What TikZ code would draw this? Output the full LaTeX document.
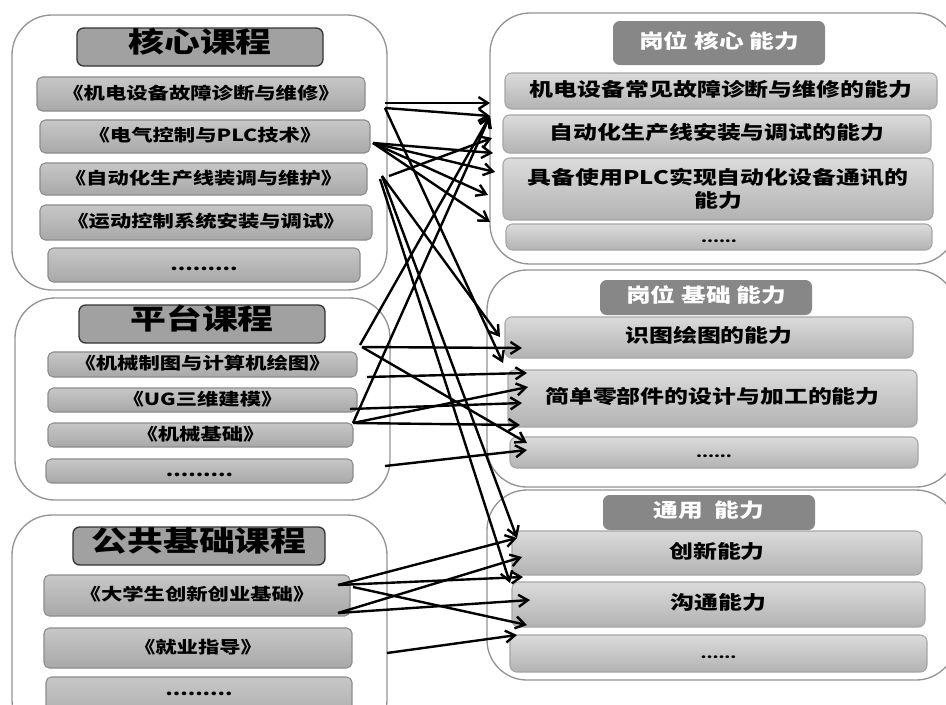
\documentclass[tikz,border=0pt]{standalone}
\usepackage{fontspec}
\newfontfamily\cjk[FakeStretch=1.28]{Noto Sans CJK SC}
\usetikzlibrary{arrows.meta}
\tikzset{
  grp/.style={draw=black!42, line width=1pt, fill=white, rounded corners=30pt, inner sep=0pt},
  tx/.style={text height=0.82em, text depth=0.06em},
  ltitle/.style={tx, draw=black!80, line width=1pt, fill=black!37, rounded corners=5pt, inner sep=0pt,
    font=\cjk\bfseries\fontsize{21}{24}\selectfont},
  litem/.style={tx, draw=black!45, line width=0.8pt, top color=black!22, bottom color=black!34,
    rounded corners=4pt, inner sep=0pt, font=\cjk\bfseries\fontsize{12.5}{14}\selectfont},
  rtitle/.style={tx, fill=black!47, rounded corners=5pt, inner sep=0pt, text=white,
    font=\cjk\bfseries\fontsize{14.5}{16}\selectfont},
  ritem/.style={tx, draw=black!35, line width=0.8pt, top color=black!14, bottom color=black!30,
    rounded corners=5pt, inner sep=0pt, align=center,
    font=\cjk\bfseries\fontsize{14}{17}\selectfont},
  ritembox/.style={draw=black!35, line width=0.8pt, top color=black!14, bottom color=black!30,
    rounded corners=5pt, inner sep=0pt},
  rtext/.style={align=center, inner sep=0pt, font=\cjk\bfseries\fontsize{14}{17}\selectfont},
  arr/.style={-{Straight Barb[length=7pt,width=9pt]}, line width=1.8pt, black},
}
% style, name, x1, y1, x2, y2, text
\newcommand\bnode[7]{\node[#1, minimum width={(#5-#3)*0.75pt}, minimum height={(#6-#4)*0.75pt}]
  (#2) at ({(#3+#5)/2},{(#4+#6)/2}) {#7};}
\begin{document}
\begin{tikzpicture}[x=0.75pt,y=-0.75pt]
\useasboundingbox (0,0) rectangle (946,704);
\clip (0,0) rectangle (946,704);
\fill[white] (0,0) rectangle (946,704);
% group frames
\bnode{grp}{gk}{12}{15}{387}{290}{}
\bnode{grp}{gp}{15}{298}{390}{500}{}
\bnode{grp}{gg}{12}{515}{387}{740}{}
\bnode{grp}{ga}{490}{13}{956}{264}{}
\bnode{grp}{gb}{487}{270}{956}{487}{}
\bnode{grp}{gc}{487}{490}{956}{680}{}
% left: core courses
\bnode{ltitle}{tk}{77}{28}{323}{66}{核心课程}
\bnode{litem}{k1}{37}{77}{365}{111}{《机电设备故障诊断与维修》}
\bnode{litem}{k2}{40}{120}{370}{153}{《电气控制与PLC技术》}
\bnode{litem}{k3}{40}{163}{367}{195}{《自动化生产线装调与维护》}
\bnode{litem}{k4}{40}{205}{372}{240}{《运动控制系统安装与调试》}
\bnode{litem}{k5}{48}{248}{360}{282}{.........}
% left: platform courses
\bnode{ltitle}{tp}{79}{305}{325}{343}{平台课程}
\bnode{litem}{p1}{48}{352}{357}{377}{《机械制图与计算机绘图》}
\bnode{litem}{p2}{48}{388}{357}{412}{《UG三维建模》}
\bnode{litem}{p3}{48}{423}{353}{447}{《机械基础》}
\bnode{litem}{p4}{46}{459}{353}{483}{.........}
% left: public courses
\bnode{ltitle}{tg}{73}{527}{325}{565}{公共基础课程}
\bnode{litem}{g1}{44}{575}{350}{616}{《大学生创新创业基础》}
\bnode{litem}{g2}{44}{628}{352}{668}{《就业指导》}
\bnode{litem}{g3}{46}{677}{352}{725}{}
\node[tx, font=\cjk\bfseries\fontsize{12.5}{14}\selectfont, inner sep=0pt] (g3d) at (199,690) {.........};
% right: core abilities
\bnode{rtitle}{ta}{613}{21}{825}{65}{岗位 核心 能力}
\bnode{ritem}{a1}{505}{73}{937}{109}{机电设备常见故障诊断与维修的能力}
\bnode{ritem}{a2}{503}{115}{931}{153}{自动化生产线安装与调试的能力}
\bnode{ritembox}{a3}{503}{158}{933}{220}{}
\node[rtext] (a3t) at (718,189) {具备使用PLC实现自动化设备通讯的\\[0pt]能力};
\bnode{ritem}{a4}{506}{224}{932}{250}{\fontsize{10}{12}\selectfont ......}
% right: basic abilities
\bnode{rtitle}{tb}{600}{280}{812}{315}{岗位 基础 能力}
\bnode{ritem}{b1}{505}{317}{913}{358}{识图绘图的能力}
\bnode{ritem}{b2}{508}{370}{917}{427}{简单零部件的设计与加工的能力}
\bnode{ritem}{b3}{510}{437}{918}{468}{\fontsize{10}{12}\selectfont ......}
% right: general abilities
\bnode{rtitle}{tc}{603}{495}{815}{530}{通用\ \ 能力}
\bnode{ritem}{c1}{512}{531}{922}{575}{创新能力}
\bnode{ritem}{c2}{512}{582}{925}{627}{沟通能力}
\bnode{ritem}{c3}{510}{635}{927}{672}{\fontsize{10}{12}\selectfont ......}
% connector ends
\coordinate (k1a) at (385,103); \coordinate (k1b) at (385,108);
\coordinate (k2a) at (373,143); \coordinate (k3a) at (389,176);
\coordinate (k3b) at (382,176); \coordinate (k3c) at (380,179);
\coordinate (p1a) at (360,345); \coordinate (p1b) at (362,347);
\coordinate (p2a) at (367,377); \coordinate (p2b) at (350,409);
\coordinate (p3a) at (353,423); \coordinate (p4a) at (385,466);
\coordinate (g1a) at (338,585); \coordinate (g1b) at (353,587);
\coordinate (g1c) at (338,613); \coordinate (g2a) at (387,653);
\coordinate (ea1) at (490,103); \coordinate (ea2) at (490,116);
\coordinate (ea3) at (492,138); \coordinate (ea4) at (493,153);
\coordinate (ea5) at (495,172); \coordinate (ea6) at (488,195);
\coordinate (ea7) at (490,222);
\coordinate (eb1) at (500,337); \coordinate (eb2) at (503,363);
\coordinate (eb3) at (522,348); \coordinate (eb4) at (527,373);
\coordinate (eb5) at (528,387); \coordinate (eb6) at (522,403);
\coordinate (eb7) at (520,425); \coordinate (eb8) at (527,443);
\coordinate (eb9) at (527,450);
\coordinate (ec1) at (517,538); \coordinate (ec2) at (510,583);
\coordinate (ec3) at (523,577); \coordinate (ec4) at (522,557);
\coordinate (ec5) at (530,600); \coordinate (ec6) at (527,625);
\coordinate (ec7) at (517,635);
% connectors
\draw[arr] (k1a) -- (ea1);
\draw[arr] (k1b) -- (ea2);
\draw[arr] (k1b) -- (eb2);
\draw[arr] (k2a) -- (ea4);
\draw[arr] (k2a) -- (ea5);
\draw[arr] (k2a) -- (ea6);
\draw[arr] (k2a) -- (ea7);
\draw[arr] (k3a) -- (ea3);
\draw[arr] (k3b) -- (eb1);
\draw[arr] (k3b) -- (ec1);
\draw[arr] (k3c) -- (ec2);
\draw[arr] (p1a) -- (ea2);
\draw[arr] (p1b) -- (eb3);
\draw[arr] (p1b) -- (eb8);
\draw[arr] (p2a) -- (eb4);
\draw[arr] (p2b) -- (eb6);
\draw[arr] (p3a) -- (ea2);
\draw[arr] (p3a) -- (eb5);
\draw[arr] (p3a) -- (eb7);
\draw[arr] (p4a) -- (eb9);
\draw[arr] (g1a) -- (ec1);
\draw[arr] (g1a) -- (ec3);
\draw[arr] (g1b) -- (ec6);
\draw[arr] (g1c) -- (ec4);
\draw[arr] (g1c) -- (ec5);
\draw[arr] (g2a) -- (ec7);
\end{tikzpicture}
\end{document}
